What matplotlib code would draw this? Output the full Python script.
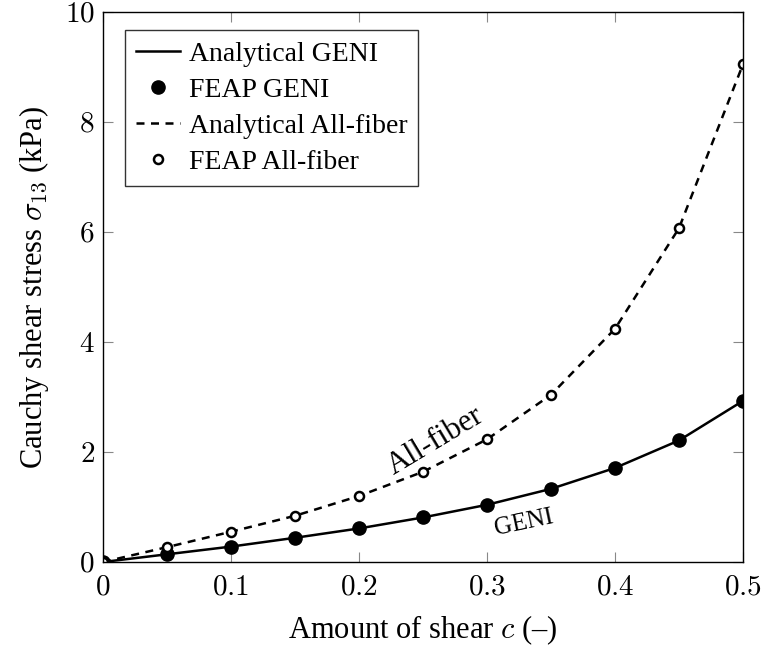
import matplotlib

matplotlib.use("Agg")
import matplotlib.pyplot as plt

# amount of shear c and Cauchy shear stress sigma_13 (kPa)
shear = [0.0, 0.05, 0.10, 0.15, 0.20, 0.25, 0.30, 0.35, 0.40, 0.45, 0.50]
geni_analytical = [0.0, 0.14, 0.28, 0.44, 0.61, 0.81, 1.04, 1.33, 1.71, 2.21, 2.93]
geni_feap = [0.0, 0.14, 0.28, 0.44, 0.61, 0.81, 1.04, 1.33, 1.71, 2.21, 2.93]
fiber_analytical = [0.0, 0.27, 0.55, 0.84, 1.20, 1.64, 2.23, 3.04, 4.24, 6.07, 9.05]
fiber_feap = [0.0, 0.27, 0.55, 0.84, 1.20, 1.64, 2.23, 3.04, 4.24, 6.07, 9.05]

x_ticks = [0, 0.1, 0.2, 0.3, 0.4, 0.5]
y_ticks = [0, 2, 4, 6, 8, 10]

plt.rcParams["font.family"] = ["Liberation Serif", "DejaVu Serif"]
plt.rcParams["mathtext.fontset"] = "cm"

fig = plt.figure(figsize=(7.64, 6.5), dpi=100)
ax = fig.add_axes([103 / 764, 88 / 650, 640 / 764, 550 / 650])

ax.plot(shear, geni_analytical, color="black", lw=1.8, label="Analytical GENI")
ax.plot(shear, geni_feap, ls="none", marker="o", ms=9.5, color="black", label="FEAP GENI")
ax.plot(shear, fiber_analytical, color="black", lw=1.8, ls=(0, (3.2, 2.6)),
        label="Analytical All-fiber")
ax.plot(shear, fiber_feap, ls="none", marker="o", ms=6.5, mew=1.8, mfc="white",
        mec="black", label="FEAP All-fiber")

ax.text(0.260, 2.2, "All-fiber", rotation=31, ha="center", va="center", fontsize=22)
ax.text(0.329, 0.71, "GENI", rotation=12, ha="center", va="center", fontsize=18)

ax.set_xlim(0, 0.5)
ax.set_ylim(0, 10)
ax.set_xticks(x_ticks)
ax.set_yticks(y_ticks)
ax.set_xticklabels([f"${t:g}$" for t in x_ticks])
ax.set_yticklabels([f"${t:g}$" for t in y_ticks])
ax.tick_params(direction="in", length=7, width=0.8, color="#888888", labelsize=21,
               top=True, right=True)
ax.tick_params(axis="x", pad=9)
ax.tick_params(axis="y", pad=6)
for s in ax.spines.values():
    s.set_linewidth(1.0)

ax.set_xlabel("Amount of shear $c$ (–)", fontsize=22, labelpad=9)
ax.set_ylabel("Cauchy shear stress $\\sigma_{13}$ (kPa)", fontsize=22, labelpad=10)

leg = ax.legend(loc="upper left", fontsize=20, frameon=True, fancybox=False,
                edgecolor="black", handlelength=1.6, handletextpad=0.3,
                borderpad=0.4, labelspacing=0.38, borderaxespad=0,
                bbox_to_anchor=(0.034, 0.967))
leg.get_frame().set_linewidth(1.0)

fig.savefig("out.png", dpi=100)
